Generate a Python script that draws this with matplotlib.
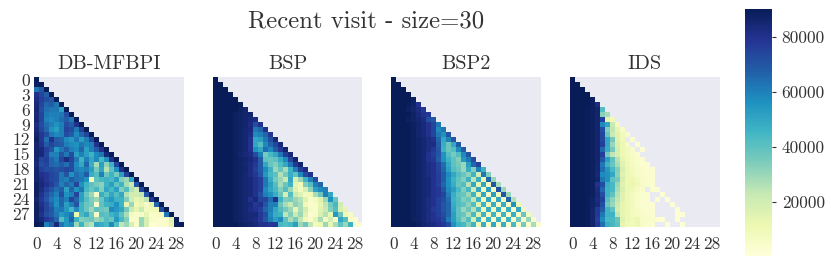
import numpy as np
import matplotlib
matplotlib.use("Agg")
import matplotlib.pyplot as plt
from matplotlib.cm import ScalarMappable
from matplotlib.colors import Normalize

plt.rcParams['font.family'] = ['cmr10', 'DejaVu Serif']
plt.rcParams['axes.formatter.use_mathtext'] = True
N = None

titles = ["DB-MFBPI", "BSP", "BSP2", "IDS"]
suptitle = "Recent visit - size=30"
x_ticks = [0, 4, 8, 12, 16, 20, 24, 28]
y_ticks = [0, 3, 6, 9, 12, 15, 18, 21, 24, 27]
cbar_ticks = [20000, 40000, 60000, 80000]
value_scale = 1000
vmin_value, vmax_value = 500, 90000

db_mfbpi = [
 [90],
 [88,90],
 [62,70,90],
 [80,74,68,90],
 [82,76,72,70,90],
 [84,74,66,68,62,90],
 [85,72,64,62,62,52,90],
 [84,74,62,60,60,62,72,90],
 [85,74,60,58,60,64,68,62,90],
 [82,72,64,60,56,60,72,68,80,90],
 [84,74,66,56,52,60,74,72,62,76,90],
 [86,78,72,62,58,60,72,68,58,66,74,90],
 [88,78,64,80,68,66,58,54,62,52,60,74,90],
 [86,80,68,74,70,68,60,58,56,62,58,60,80,90],
 [86,84,76,70,54,62,68,60,58,66,52,60,68,80,90],
 [86,84,74,60,60,70,62,72,52,60,52,46,58,62,84,90],
 [85,74,76,66,62,74,82,74,62,46,60,50,58,44,56,80,90],
 [84,72,74,66,64,68,64,72,58,50,66,48,28,52,32,46,74,90],
 [86,76,72,72,70,72,74,72,60,58,60,52,36,50,26,40,56,80,90],
 [86,80,78,74,72,62,70,56,64,60,68,48,42,60,38,46,36,52,76,90],
 [86,82,78,74,72,62,60,68,64,62,56,8,40,44,46,44,52,34,30,50,90],
 [88,84,80,76,70,60,66,62,74,56,46,40,36,32,46,52,40,46,28,22,70,90],
 [88,82,76,70,64,68,52,66,56,62,44,38,44,34,50,44,52,34,42,26,20,74,90],
 [88,80,72,66,60,72,56,60,74,52,38,30,6,48,40,50,42,50,26,20,20,24,70,90],
 [86,78,70,62,58,66,60,74,66,52,42,34,30,38,50,54,46,46,34,20,14,16,24,78,90],
 [88,80,74,66,56,66,52,60,70,46,38,36,5,40,46,48,56,46,14,30,10,14,6,14,66,90],
 [88,82,74,70,60,62,54,44,58,46,38,30,40,38,36,58,54,50,36,22,14,22,8,10,10,72,90],
 [88,80,72,68,62,54,58,62,12,44,50,36,5,42,40,46,50,40,28,8,5,6,14,4,6,8,62,90],
 [88,84,78,74,66,42,54,66,46,34,36,38,30,34,42,38,54,44,34,4,6,30,18,6,4,3,5,16,90],
 [90,88,60,66,84,62,54,58,30,46,30,26,50,48,44,58,42,24,30,18,6,30,18,2,3,4,5,14,88,90],
]

bsp = [
 [90],
 [90,90],
 [90,90,90],
 [90,90,90,90],
 [90,90,90,90,90],
 [90,90,90,90,90,89],
 [90,90,90,90,90,88,86],
 [90,90,90,90,88,87,86,86],
 [90,90,90,90,88,87,86,84,82],
 [90,90,90,90,88,87,86,82,72,80],
 [90,90,90,90,88,87,85,84,62,66,80],
 [90,90,90,90,88,87,85,82,58,60,66,78],
 [90,90,90,90,88,87,85,80,50,52,62,72,84],
 [90,90,90,90,88,87,85,80,50,42,58,66,74,84],
 [90,90,90,90,88,87,85,80,56,50,64,58,68,78,86],
 [90,90,90,90,88,86,84,82,72,60,36,44,50,62,76,84],
 [90,90,90,90,88,87,86,84,80,68,40,38,40,48,58,74,86],
 [90,90,90,90,88,87,85,82,78,68,50,38,34,42,50,62,78,86],
 [90,90,90,90,88,87,86,82,76,68,58,46,30,38,28,46,60,76,82],
 [90,90,90,90,88,87,85,82,78,70,54,44,40,26,36,48,40,58,72,80],
 [90,90,90,90,88,87,85,84,80,76,62,48,36,30,22,50,18,30,46,60,72],
 [90,90,90,90,88,87,85,84,80,76,62,52,42,28,38,46,14,10,34,42,60,66],
 [90,90,90,90,88,87,85,84,80,76,58,50,44,34,42,30,16,8,18,32,52,58,60],
 [90,90,90,90,88,87,85,84,80,72,60,56,48,38,18,42,22,16,8,10,28,38,60,50],
 [90,90,90,90,88,87,85,80,84,74,74,64,80,46,34,36,30,26,16,5,8,16,30,56,38],
 [90,90,90,90,88,87,85,84,78,80,70,60,60,38,28,22,32,28,10,4,6,14,24,36,44,20],
 [90,90,90,90,88,87,85,82,80,76,66,60,50,42,36,30,14,28,20,7,4,16,22,34,42,18,14],
 [90,90,90,90,88,87,85,84,84,78,72,58,48,46,24,34,22,30,16,3,6,18,26,14,54,38,10,6],
 [90,90,90,90,88,87,85,84,82,78,70,60,52,58,40,28,36,24,10,5,14,28,8,20,6,50,42,6,3],
 [90,90,90,90,90,88,87,86,84,80,80,78,78,44,42,44,52,30,38,24,8,12,30,14,28,40,30,46,4,3],
]

bsp2 = [
 [90],
 [90,90],
 [90,90,90],
 [90,90,90,90],
 [90,90,90,90,88],
 [90,90,90,89,87,80],
 [90,90,90,88,86,82,78],
 [90,90,90,90,87,84,80,78],
 [90,90,90,88,87,85,82,72,70],
 [90,90,90,90,88,86,84,80,74,62],
 [90,90,90,90,88,86,84,80,74,58,62],
 [90,90,90,90,88,86,84,80,74,62,56,70],
 [90,90,90,90,88,87,85,82,80,66,50,60,70],
 [90,90,90,90,88,87,85,82,82,68,48,38,50,68],
 [90,90,90,90,88,87,85,82,78,70,46,38,42,58,68],
 [90,90,90,90,88,87,85,80,76,70,56,42,36,42,58,70],
 [90,90,90,90,88,87,85,80,78,68,56,46,40,34,54,62,72],
 [90,90,90,90,88,87,85,82,80,74,64,50,40,36,30,52,66,74],
 [90,90,90,90,88,87,85,82,80,74,66,52,42,38,30,48,34,60,46],
 [90,90,90,90,88,87,85,82,80,76,68,58,50,42,38,32,46,20,62,34],
 [90,90,90,90,88,87,85,84,80,76,68,56,46,40,34,46,24,48,12,66,30],
 [90,90,90,90,88,87,85,84,80,76,66,56,48,38,42,26,50,14,50,8,70,28],
 [90,90,90,90,88,87,85,84,80,78,70,58,52,44,34,44,20,50,8,52,8,72,30],
 [90,90,90,90,88,87,85,84,80,78,74,60,48,40,38,30,46,14,50,6,52,8,70,30],
 [90,90,90,90,88,87,85,82,80,76,72,64,46,42,34,38,24,46,10,50,6,50,8,66,26],
 [90,90,90,90,88,87,85,82,80,76,70,66,48,42,40,32,42,16,46,8,48,6,48,6,56,12],
 [90,90,90,90,88,87,85,82,78,76,70,66,50,40,30,38,26,44,10,48,8,48,6,48,5,50,10],
 [90,90,90,90,88,87,85,82,80,76,72,66,52,40,38,28,44,16,46,8,46,6,46,5,48,5,38,8],
 [90,90,90,90,88,87,85,82,80,78,74,62,52,42,32,42,18,46,6,46,5,46,5,46,5,38,5,30,4],
 [90,90,90,90,90,88,86,84,82,80,78,72,56,46,44,34,46,10,48,4,50,4,48,3,44,4,36,3,28,3],
]

ids = [
 [90],
 [90,90],
 [90,90,90],
 [90,90,90,90],
 [90,90,90,90,88],
 [90,90,90,90,88,82],
 [90,90,90,89,88,86,42],
 [90,90,90,89,88,86,32,28],
 [90,90,90,89,88,86,76,14,10],
 [90,90,90,89,88,86,58,50,22,8],
 [90,90,90,89,88,86,72,34,24,14,6],
 [90,90,90,89,88,86,74,38,22,16,10,5],
 [90,90,90,89,88,86,74,50,36,16,10,N,3],
 [90,90,90,89,88,86,76,50,30,18,12,6,N,3],
 [90,90,90,89,88,86,66,48,36,20,12,8,5,N,3],
 [90,90,90,89,88,86,76,36,24,18,12,8,6,3],
 [90,90,90,89,88,86,70,52,40,26,14,10,7,4,3],
 [90,90,90,89,88,85,62,46,38,28,16,10,7,5,3,3],
 [90,90,90,89,88,85,64,54,44,34,18,12,8,6,4,3,3],
 [90,90,90,89,88,84,58,56,50,32,16,11,9,6,5,3,3],
 [90,90,90,89,88,86,62,56,40,36,18,12,11,8,5,4,3],
 [90,90,90,89,88,80,72,48,44,30,16,12,13,9,6,4,3],
 [90,90,90,89,88,82,66,46,44,28,18,12,10,7,4,N,3,3],
 [90,90,90,89,88,84,72,46,40,26,16,12,8,6,4,3,N,N,2],
 [90,90,90,89,87,82,76,42,32,24,16,11,8,5,3,3,N,3,N,2],
 [90,90,90,89,87,84,72,38,30,22,14,11,8,5,3,3,3,N,N,N,2],
 [90,90,90,89,86,78,68,46,40,20,14,11,8,7,4,3,3,N,N,N,N,2],
 [90,90,90,89,86,78,62,46,46,24,14,12,8,7,5,4,3,N,N,N,N,2,2],
 [90,90,90,89,86,76,58,44,44,38,16,12,9,11,6,5,4,3,2,N,N,2],
 [90,90,90,89,86,78,64,48,44,40,14,10,9,11,6,4,3,N,N,2,N,N,2],
]

panels = [db_mfbpi, bsp, bsp2, ids]
W, H = 831, 265
fig = plt.figure(figsize=(W/100, H/100), dpi=100)
lefts = [34, 213, 391, 570]
cmap = plt.get_cmap("YlGnBu")
norm = Normalize(vmin=vmin_value, vmax=vmax_value)

def to_matrix(rows):
    n = len(rows)
    m = np.full((n, n), np.nan)
    for i, row in enumerate(rows):
        for j, v in enumerate(row):
            if v is not None:
                m[i, j] = v * value_scale
    return np.ma.masked_invalid(m)

for k, (rows, title, left) in enumerate(zip(panels, titles, lefts)):
    ax = fig.add_axes([left/W, 1-226.5/H, 149.5/W, 149.5/H])
    ax.set_facecolor("#EAEAF2")
    ax.pcolormesh(to_matrix(rows), cmap=cmap, norm=norm, linewidth=0, antialiased=False)
    ax.set_xlim(0, 30)
    ax.set_ylim(30, 0)
    ax.set_aspect("auto")
    for s in ax.spines.values():
        s.set_visible(False)
    ax.set_xticks(np.array(x_ticks)+0.5, [str(t) for t in x_ticks])
    ax.tick_params(axis="x", length=0, labelsize=12.3, labelcolor="#333333", pad=7)
    if k == 0:
        ax.set_yticks(np.array(y_ticks)+0.5, [str(t) for t in y_ticks])
        ax.tick_params(axis="y", length=0, labelsize=12.6, labelcolor="#333333", pad=3)
    else:
        ax.set_yticks([])
    ax.set_title(title, fontsize=14.6, color="#333333", pad=5.5)

fig.text(366.5/W, 1-21/H, suptitle, ha="center", va="center", fontsize=17.8, color="#333333")

cax = fig.add_axes([745/W, 1-256/H, 27/W, 247/H])
cb = fig.colorbar(ScalarMappable(norm=norm, cmap=cmap), cax=cax)
cb.outline.set_visible(False)
cb.set_ticks(cbar_ticks)
cb.set_ticklabels([str(t) for t in cbar_ticks])
cax.tick_params(length=3, width=0.8, color="#333333", labelsize=12.5, labelcolor="#333333", pad=4)

fig.savefig("out.png", dpi=100)
